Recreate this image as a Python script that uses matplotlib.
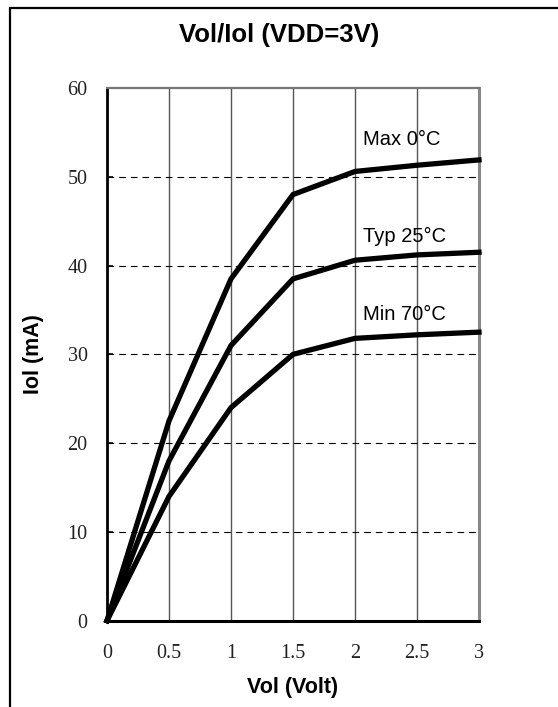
"""Vol/Iol curve for VDD=3V at three temperatures."""
import numpy as np
import matplotlib
matplotlib.use("Agg")
import matplotlib.pyplot as plt
from matplotlib.patches import Rectangle

# -------------------------------------------------------
# Data.
# -------------------------------------------------------
vol = [0, 0.5, 1.0, 1.5, 2.0, 2.5, 3.0]
iol_max = [0, 22.5, 38.5, 48.0, 50.6, 51.3, 51.9]
iol_typ = [0, 18.0, 31.0, 38.5, 40.6, 41.2, 41.5]
iol_min = [0, 14.0, 24.0, 30.0, 31.8, 32.2, 32.5]

curve_labels = ["Max 0°C", "Typ 25°C", "Min 70°C"]
label_pos = [(2.065, 53.6), (2.065, 42.7), (2.065, 33.9)]

xticks = [0, 0.5, 1, 1.5, 2, 2.5, 3]
xtick_labels = ["0", "0.5", "1", "1.5", "2", "2.5", "3"]
yticks = [0, 10, 20, 30, 40, 50, 60]

# -------------------------------------------------------
# Plot.
# -------------------------------------------------------
W, H = 558, 707
fig = plt.figure(figsize=(W/100, H/100), dpi=100)
ax = fig.add_axes([107/W, 1-620.7/H, 372/W, 532.7/H])

# outer frame (right and bottom edges are cut off in the original)
fig.patches.append(Rectangle(
    (10/W, -0.1), 1.2, 1-7.5/H+0.1,
    transform=fig.transFigure, fill=False,
    edgecolor="black", linewidth=1.6,
    ))

# grid
for x in xticks[1:-1]:
    ax.axvline(x, color="#555555", linewidth=1.0, zorder=1)
for y in yticks[1:-1]:
    ax.axhline(y, color="black", linewidth=0.8,
               linestyle=(0, (6, 4.5)), zorder=1)

for ys in [iol_max, iol_typ, iol_min]:
    ax.plot(vol, ys, color="black", linewidth=3.8,
            solid_joinstyle="miter", zorder=3, clip_on=False)

for text, (x, y) in zip(curve_labels, label_pos):
    ax.text(x, y, text, family="Liberation Sans", fontsize=14.5,
            ha="left", va="baseline")

ax.set_xlim(0, 3)
ax.set_ylim(0, 60)
ax.set_xticks(xticks)
ax.set_xticklabels(xtick_labels)
ax.set_yticks(yticks)
for lab in ax.get_xticklabels() + ax.get_yticklabels():
    lab.set_family("Liberation Serif")
    lab.set_fontsize(14.5)
    lab.set_color("#222222")
ax.tick_params(axis="x", length=0, pad=17)
ax.tick_params(axis="y", direction="in", length=4, width=1.2, pad=14)

ax.spines["left"].set_linewidth(2.0)
ax.spines["bottom"].set_linewidth(2.2)
ax.spines["top"].set_color("#777777")
ax.spines["top"].set_linewidth(1.6)
ax.spines["right"].set_color("#888888")
ax.spines["right"].set_linewidth(2.2)

ax.set_xlabel("Vol (Volt)", family="Liberation Sans", fontweight="bold",
              fontsize=15.5, labelpad=10)
ax.set_ylabel("Iol (mA)", family="Liberation Sans", fontweight="bold",
              fontsize=15.5, labelpad=17)
fig.text(279/W, 1-35/H, "Vol/Iol (VDD=3V)", family="Liberation Sans",
         fontweight="bold", fontsize=18.5, ha="center", va="center")

fig.savefig("out.png", dpi=100)
